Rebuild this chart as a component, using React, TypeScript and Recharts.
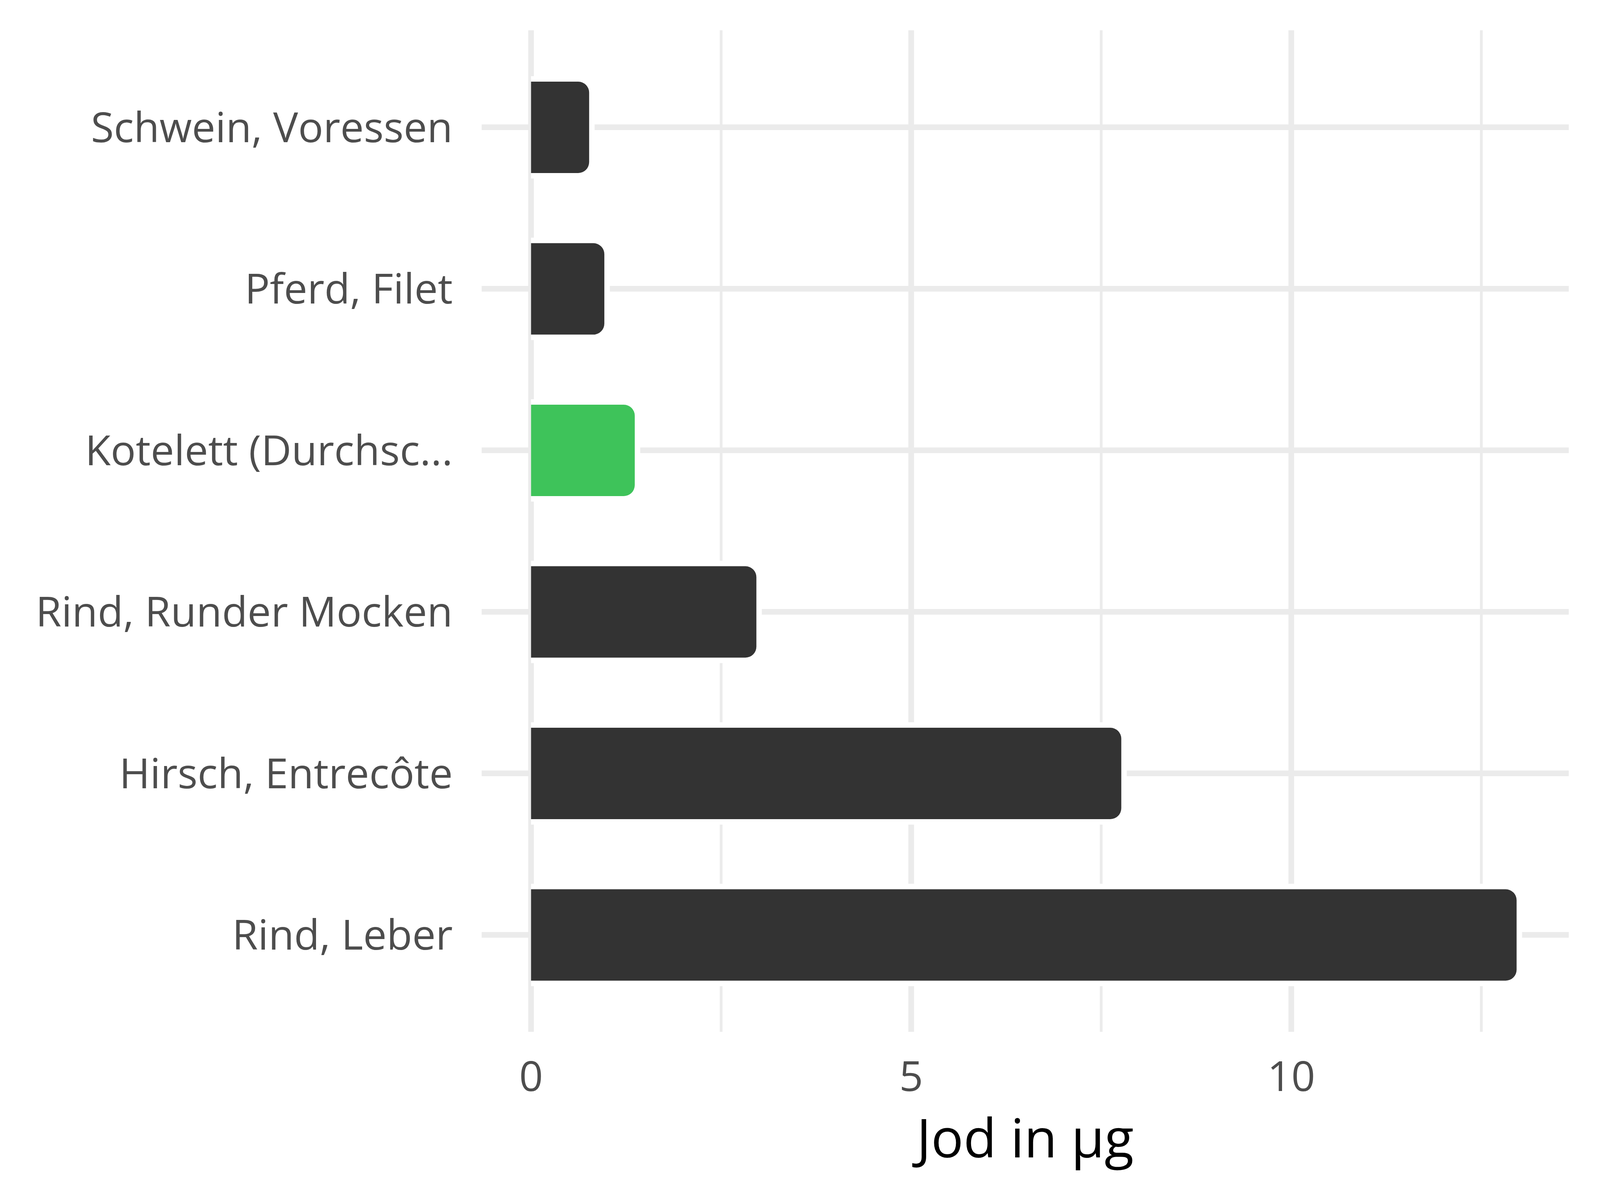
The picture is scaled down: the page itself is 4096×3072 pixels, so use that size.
import React from 'react';
import { BarChart, Bar, XAxis, YAxis, CartesianGrid } from 'recharts';

// ---- data ----
const categories = [
  'Schwein, Voressen',
  'Pferd, Filet',
  'Kotelett (Durchsc...',
  'Rind, Runder Mocken',
  'Hirsch, Entrecôte',
  'Rind, Leber',
];
const values = [0.8, 1.0, 1.4, 3.0, 7.8, 13.0];
const highlighted = [false, false, true, false, false, false];
const xTicks = [0, 5, 10];
const xMinorTicks = [2.5, 7.5, 12.5];
const xDomain: [number, number] = [-0.65, 13.65];
const xTitle = 'Jod in µg';

const data = categories.map((name, i) => ({ name, value: values[i], hl: highlighted[i] }));

// ---- layout ----
const W = 4096;
const H = 3072;
const PANEL_LEFT = 1233;
const PANEL_RIGHT = 4016;
const PANEL_TOP = 77.5;
const PANEL_BOTTOM = 2641.5;
const Y_PAD = 41.5;
const YW = 300;
const XH = 200;
const FONT = '"Open Sans", "DejaVu Sans", sans-serif';
const TEXT_GREY = '#4D4D4D';
const GRID = '#EBEBEB';
const BAR_DARK = '#333333';
const BAR_HL = '#3EC35A';
const LABEL_RIGHT = 1159;
const TICK_BASELINE = 2793;
const TITLE_BASELINE = 2963;
const AXIS_FONT = 107;
const TITLE_FONT = 138;

const genX = (vals: number[]) => (props: any) => {
  const { xAxis, offset } = props || {};
  return vals.map((v) => {
    let p: any = undefined;
    if (xAxis && typeof xAxis.scale === 'function') p = xAxis.scale(v);
    if (typeof p !== 'number' || !isFinite(p)) {
      p = offset.left + ((v - xDomain[0]) / (xDomain[1] - xDomain[0])) * offset.width;
    }
    return p;
  });
};

const genY = (props: any) => {
  const { yAxis, offset } = props || {};
  const n = categories.length;
  const band = (offset.height - 2 * Y_PAD) / n;
  return categories.map((c, i) => {
    let p: any = undefined;
    if (yAxis && typeof yAxis.scale === 'function') {
      const s = yAxis.scale(c);
      const bw = typeof yAxis.scale.bandwidth === 'function' ? yAxis.scale.bandwidth() : undefined;
      if (typeof s === 'number' && typeof bw === 'number') p = s + bw / 2;
    }
    if (typeof p !== 'number' || !isFinite(p)) {
      p = offset.top + Y_PAD + (i + 0.5) * band;
    }
    return p;
  });
};

const rightRounded = (x: number, y: number, w: number, h: number, r: number) => {
  const rr = Math.max(0, Math.min(r, w, h / 2));
  return `M${x},${y} L${x + w - rr},${y} A${rr},${rr} 0 0 1 ${x + w},${y + rr} L${x + w},${y + h - rr} A${rr},${rr} 0 0 1 ${x + w - rr},${y + h} L${x},${y + h} Z`;
};

const BarShape = (props: any) => {
  const { x, y, width, height, payload } = props;
  if (!(width > 0)) return null;
  const inset = 7;
  const outset = 7;
  const fill = payload && payload.hl ? BAR_HL : BAR_DARK;
  return (
    <g>
      <path d={rightRounded(x, y - outset, width + outset, height + 2 * outset, 40)} fill="#FFFFFF" />
      <path d={rightRounded(x, y + inset, width - inset, height - 2 * inset, 28)} fill={fill} />
    </g>
  );
};

const YTick = (props: any) => {
  const { y, payload } = props;
  return (
    <text x={LABEL_RIGHT} y={y + 0.357 * AXIS_FONT} textAnchor="end" fill={TEXT_GREY}
      fontFamily={FONT} fontSize={AXIS_FONT}>
      {payload.value}
    </text>
  );
};

const XTick = (props: any) => {
  const { x, payload } = props;
  return (
    <text x={x} y={TICK_BASELINE} textAnchor="middle" fill={TEXT_GREY}
      fontFamily={FONT} fontSize={AXIS_FONT}>
      {payload.value}
    </text>
  );
};

const XTitle = (props: any) => {
  const vb = props.viewBox || {};
  const cx = (vb.x ?? PANEL_LEFT) + (vb.width ?? PANEL_RIGHT - PANEL_LEFT) / 2;
  return (
    <text x={cx} y={TITLE_BASELINE} textAnchor="middle" fill="#000000"
      fontFamily={FONT} fontSize={TITLE_FONT}>
      {xTitle}
    </text>
  );
};

export default function App() {
  return (
    <div style={{ position: 'absolute', left: 0, top: 0, width: W, height: H, background: '#FFFFFF' }}>
      <BarChart
        width={W}
        height={H}
        data={data}
        layout="vertical"
        margin={{ top: PANEL_TOP, right: W - PANEL_RIGHT, bottom: H - PANEL_BOTTOM - XH, left: PANEL_LEFT - YW }}
      >
        <CartesianGrid horizontal={false} vertical stroke={GRID} strokeWidth={7}
          verticalCoordinatesGenerator={genX(xMinorTicks)} />
        <CartesianGrid horizontal vertical stroke={GRID} strokeWidth={14.5}
          verticalCoordinatesGenerator={genX(xTicks)}
          horizontalCoordinatesGenerator={genY} />
        <XAxis type="number" domain={xDomain} ticks={xTicks} allowDataOverflow
          axisLine={false} tickLine={false} height={XH} tick={<XTick />} label={<XTitle />} />
        <YAxis type="category" dataKey="name" width={YW} axisLine={false} tickLine={false}
          padding={{ top: Y_PAD, bottom: Y_PAD }} tick={<YTick />} interval={0} />
        <Bar dataKey="value" barSize={248} shape={<BarShape />} isAnimationActive={false} />
      </BarChart>
    </div>
  );
}
